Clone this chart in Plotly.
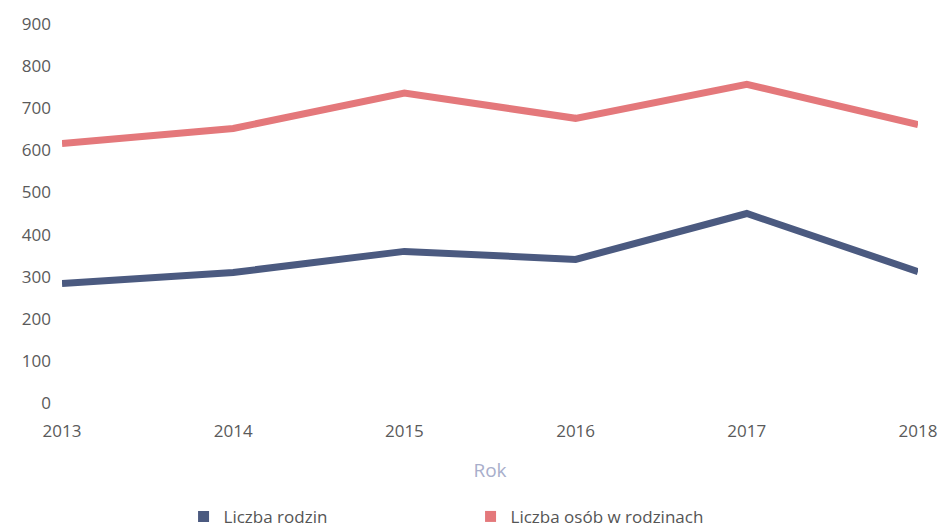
import plotly.graph_objects as go

years = [2013, 2014, 2015, 2016, 2017, 2018]
liczba_rodzin = [284, 310, 360, 341, 450, 312]
liczba_osob = [616, 652, 736, 676, 757, 661]
y_ticks = [0, 100, 200, 300, 400, 500, 600, 700, 800, 900]

blue = "#4b5a80"
red = "#e4787b"

fig = go.Figure()
fig.add_trace(go.Scatter(x=years, y=liczba_rodzin, mode="lines",
                         line=dict(color=blue, width=7), showlegend=False))
fig.add_trace(go.Scatter(x=years, y=liczba_osob, mode="lines",
                         line=dict(color=red, width=7), showlegend=False))
fig.add_trace(go.Scatter(x=[None], y=[None], mode="markers", name="Liczba rodzin",
                         marker=dict(symbol="square", size=11, color=blue)))
fig.add_trace(go.Scatter(x=[None], y=[None], mode="markers", name="Liczba osób w rodzinach",
                         marker=dict(symbol="square", size=11, color=red)))

fig.update_layout(
    width=939, height=522,
    margin=dict(l=54, r=29, t=16, b=127, autoexpand=False),
    paper_bgcolor="white", plot_bgcolor="white",
    font=dict(family="Open Sans", color="#5a5a5a", size=17),
    showlegend=True,
    legend=dict(orientation="h", x=0.142, xanchor="left",
                y=-0.253, yanchor="top", entrywidth=242, entrywidthmode="pixels",
                font=dict(size=17, color="#555555")),
)
fig.update_xaxes(range=[2013, 2018], tickvals=years, ticktext=[str(y) for y in years],
                 showgrid=False, zeroline=False, showline=False,
                 ticks="", ticklabelstandoff=16,
                 title=dict(text="Rok", font=dict(size=19, color="#a8aecb"), standoff=22))
fig.update_yaxes(range=[0, 900], tickvals=y_ticks, showgrid=False, zeroline=False,
                 showline=False, ticks="", ticklabelstandoff=10)

fig.write_html("out.html")
